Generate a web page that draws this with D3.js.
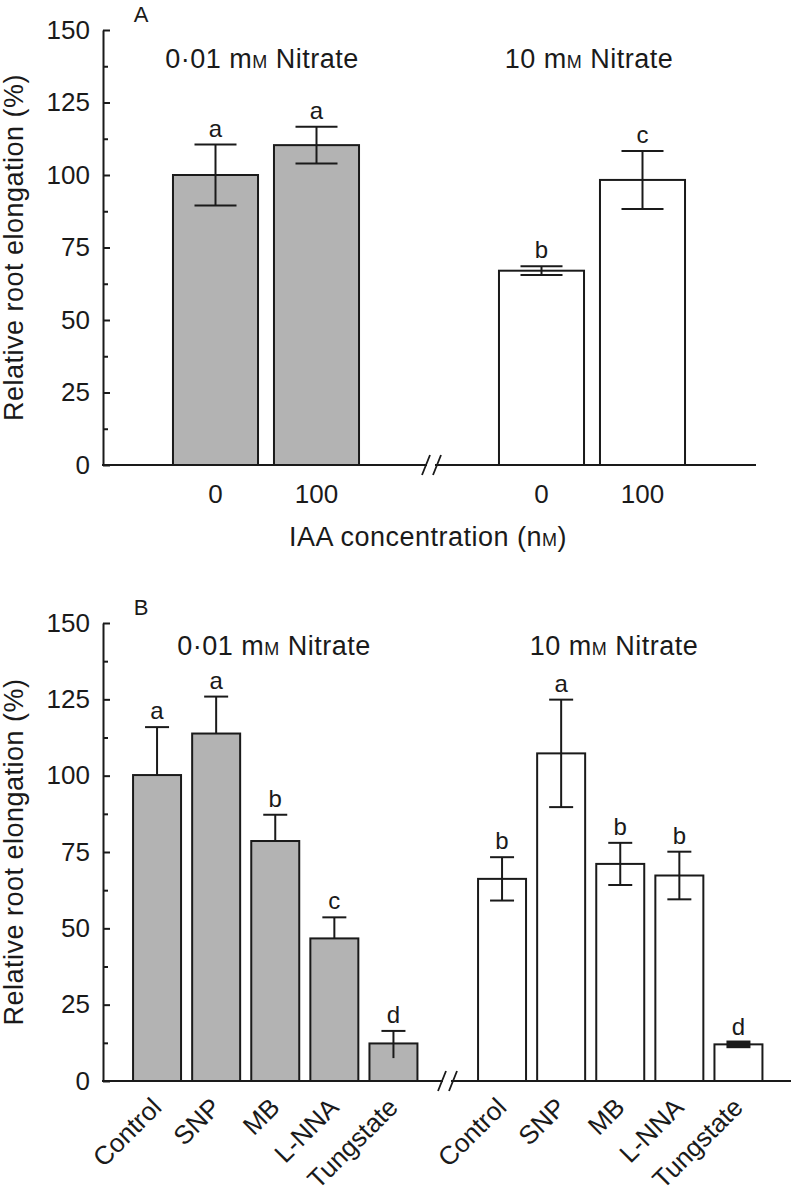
<!DOCTYPE html>
<html>
<head>
<meta charset="utf-8">
<script src="https://cdn.jsdelivr.net/npm/d3@7"></script>
<style>
  html, body { margin: 0; padding: 0; background: #fff; }
  svg text { font-family: 'Liberation Sans', Arial, Helvetica, sans-serif; fill: #1a1a1a; }
</style>
</head>
<body>
<svg id="chart" width="793" height="1199"></svg>
<script>
// ---------- DATA ----------
// Panel A
const iaaCategories = ["0", "100"];
const aLowValues = [100, 110.3];
const aLowErr = [10.5, 6.3];
const aLowLetters = ["a", "a"];
const aHighValues = [67, 98.3];
const aHighErr = [1.5, 10];
const aHighLetters = ["b", "c"];

// Panel B
const treatments = ["Control", "SNP", "MB", "L-NNA", "Tungstate"];
const bLowValues = [100.2, 113.8, 78.6, 46.7, 12.3];
const bLowErrUp = [15.7, 12.1, 8.6, 6.9, 4.1];
const bLowErrDown = [0, 0, 0, 0, 4.8];
const bLowLetters = ["a", "a", "b", "c", "d"];
const bHighValues = [66.2, 107.3, 71.1, 67.3, 12.0];
const bHighErr = [7.1, 17.6, 6.9, 7.8, 0.6];
const bHighLetters = ["b", "a", "b", "b", "d"];

const yTicks = [0, 25, 50, 75, 100, 125, 150];
const yMinorTicks = [12.5, 37.5, 62.5, 87.5, 112.5, 137.5];
const groupTitles = ["0·01 m", "10 m"];

// ---------- DRAW ----------
const svg = d3.select("#chart");
const ink = "#1a1a1a";
const grey = "#b3b3b3";
const SW = 2;
const FONT = "'Liberation Sans', Arial, Helvetica, sans-serif";

function smallCapsText(g, x, y, pre, post, size, small) {
  const t = g.append("text").attr("x", x).attr("y", y)
    .attr("text-anchor", "middle").attr("font-size", size).attr("letter-spacing", 0.5);
  t.append("tspan").text(pre);
  t.append("tspan").attr("font-size", small).text("M");
  t.append("tspan").text(post);
  return t;
}

function yAxis(g, y, x0) {
  const ax = g.append("g").attr("transform", `translate(${x0},0)`)
    .call(d3.axisLeft(y).tickValues(yTicks).tickSizeInner(-7).tickSizeOuter(0).tickPadding(13));
  ax.select(".domain").attr("stroke", ink).attr("stroke-width", SW);
  ax.selectAll(".tick line").attr("stroke", ink).attr("stroke-width", SW);
  ax.selectAll(".tick text").attr("font-size", 26).attr("fill", ink).attr("font-family", FONT);
  const mn = g.append("g").attr("transform", `translate(${x0},0)`)
    .call(d3.axisLeft(y).tickValues(yMinorTicks).tickSizeInner(-5).tickSizeOuter(0).tickFormat(""));
  mn.select(".domain").remove();
  mn.selectAll(".tick line").attr("stroke", ink).attr("stroke-width", SW);
}

function xAxisWithBreak(g, yBase, x0, x1, bx) {
  g.append("line").attr("x1", x0 - 1).attr("x2", bx - 4).attr("y1", yBase).attr("y2", yBase)
    .attr("stroke", ink).attr("stroke-width", SW);
  g.append("line").attr("x1", bx + 4).attr("x2", x1).attr("y1", yBase).attr("y2", yBase)
    .attr("stroke", ink).attr("stroke-width", SW);
  [-5, 6].forEach(dx => {
    g.append("line").attr("x1", bx + dx - 4).attr("x2", bx + dx + 4)
      .attr("y1", yBase + 10).attr("y2", yBase - 10)
      .attr("stroke", ink).attr("stroke-width", 1.8);
  });
}

function bars(g, x, y, cats, vals, fill) {
  g.selectAll(null).data(cats).enter().append("rect")
    .attr("x", d => x(d)).attr("width", x.bandwidth())
    .attr("y", (d, i) => y(vals[i])).attr("height", (d, i) => y(0) - y(vals[i]))
    .attr("fill", fill).attr("stroke", ink).attr("stroke-width", SW);
}

function errorBars(g, x, y, cats, vals, up, down, capW, lowerCap, letters, thick) {
  cats.forEach((c, i) => {
    const cx = x(c) + x.bandwidth() / 2;
    const yt = y(vals[i] + up[i]);
    const yb = y(vals[i] - down[i]);
    const sw = thick && thick[i] ? 4 : SW;
    g.append("line").attr("x1", cx).attr("x2", cx).attr("y1", yt).attr("y2", yb)
      .attr("stroke", ink).attr("stroke-width", SW);
    g.append("line").attr("x1", cx - capW / 2).attr("x2", cx + capW / 2).attr("y1", yt).attr("y2", yt)
      .attr("stroke", ink).attr("stroke-width", sw);
    if (lowerCap && down[i] > 0) {
      g.append("line").attr("x1", cx - capW / 2).attr("x2", cx + capW / 2).attr("y1", yb).attr("y2", yb)
        .attr("stroke", ink).attr("stroke-width", sw);
    }
    g.append("text").attr("x", cx).attr("y", yt - 8).attr("text-anchor", "middle")
      .attr("font-size", 24).text(letters[i]);
  });
}

// ---------- Panel A ----------
{
  const g = svg.append("g");
  const y = d3.scaleLinear().domain([0, 150]).range([465, 30]);
  const x1 = d3.scaleBand().domain(iaaCategories).range([165, 367]).paddingInner(0.158).paddingOuter(0.079);
  const x2 = d3.scaleBand().domain(iaaCategories).range([491, 693]).paddingInner(0.158).paddingOuter(0.079);

  bars(g, x1, y, iaaCategories, aLowValues, grey);
  bars(g, x2, y, iaaCategories, aHighValues, "#fff");
  errorBars(g, x1, y, iaaCategories, aLowValues, aLowErr, aLowErr, 42, true, aLowLetters);
  errorBars(g, x2, y, iaaCategories, aHighValues, aHighErr, aHighErr, 42, true, aHighLetters);

  yAxis(g, y, 103);
  xAxisWithBreak(g, y(0), 103, 756, 431);

  [x1, x2].forEach(x => {
    iaaCategories.forEach(c => {
      g.append("text").attr("x", x(c) + x.bandwidth() / 2).attr("y", 503)
        .attr("text-anchor", "middle").attr("font-size", 26).text(c);
    });
  });

  smallCapsText(g, 428, 546, "IAA concentration (n", ")", 27, 18);
  smallCapsText(g, 262, 68, groupTitles[0], " Nitrate", 27, 18);
  smallCapsText(g, 589, 68, groupTitles[1], " Nitrate", 27, 18);
  g.append("text").attr("x", 141).attr("y", 22).attr("text-anchor", "middle").attr("font-size", 22).text("A");
  g.append("text").attr("transform", `translate(23,${(y(0) + y(150)) / 2}) rotate(-90)`)
    .attr("text-anchor", "middle").attr("font-size", 27).attr("letter-spacing", 0.5)
    .text("Relative root elongation (%)");
}

// ---------- Panel B ----------
{
  const g = svg.append("g");
  const y = d3.scaleLinear().domain([0, 150]).range([1081, 623]);
  const x1 = d3.scaleBand().domain(treatments).range([127.5, 423]).paddingInner(0.188).paddingOuter(0.094);
  const x2 = d3.scaleBand().domain(treatments).range([472.5, 768]).paddingInner(0.188).paddingOuter(0.094);

  bars(g, x1, y, treatments, bLowValues, grey);
  bars(g, x2, y, treatments, bHighValues, "#fff");
  errorBars(g, x1, y, treatments, bLowValues, bLowErrUp, bLowErrDown, 24, false, bLowLetters);
  errorBars(g, x2, y, treatments, bHighValues, bHighErr, bHighErr, 24, true, bHighLetters,
    [false, false, false, false, true]);

  yAxis(g, y, 103);
  xAxisWithBreak(g, y(0), 103, 791, 447);

  [x1, x2].forEach(x => {
    treatments.forEach(c => {
      const cx = x(c) + x.bandwidth() / 2 + 6;
      g.append("text").attr("transform", `translate(${cx},${y(0) + 28}) rotate(-45)`)
        .attr("text-anchor", "end").attr("font-size", 26).text(c);
    });
  });

  smallCapsText(g, 274, 655, groupTitles[0], " Nitrate", 27, 18);
  smallCapsText(g, 614, 655, groupTitles[1], " Nitrate", 27, 18);
  g.append("text").attr("x", 141).attr("y", 615).attr("text-anchor", "middle").attr("font-size", 22).text("B");
  g.append("text").attr("transform", `translate(23,${(y(0) + y(150)) / 2}) rotate(-90)`)
    .attr("text-anchor", "middle").attr("font-size", 27).attr("letter-spacing", 0.5)
    .text("Relative root elongation (%)");
}
</script>
</body>
</html>
